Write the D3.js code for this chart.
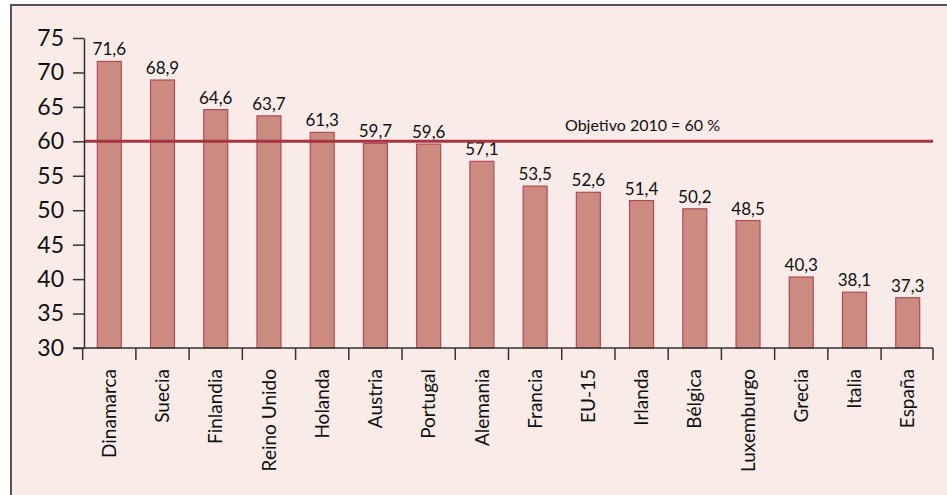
<!DOCTYPE html>
<html>
<head>
<meta charset="utf-8">
<script src="https://cdn.jsdelivr.net/npm/d3@7"></script>
<style>
  html, body { margin: 0; padding: 0; background: #fff; }
  svg text { font-family: Lato, 'Open Sans', sans-serif; font-weight: 400; fill: #111; }
</style>
</head>
<body>
<svg id="chart" width="947" height="495"></svg>
<script>
const countries = ['Dinamarca', 'Suecia', 'Finlandia', 'Reino Unido', 'Holanda', 'Austria', 'Portugal',
  'Alemania', 'Francia', 'EU-15', 'Irlanda', 'Bélgica', 'Luxemburgo', 'Grecia', 'Italia', 'España']
const rates = [71.6, 68.9, 64.6, 63.7, 61.3, 59.7, 59.6, 57.1, 53.5, 52.6, 51.4, 50.2, 48.5, 40.3, 38.1, 37.3]
const yTicks = [30, 35, 40, 45, 50, 55, 60, 65, 70, 75]
const target = 60
const targetLabel = 'Objetivo 2010 = 60 %'

const svg = d3.select('#chart')
const margin = {top: 38, right: 14, bottom: 147, left: 84}
const width = 947 - margin.left - margin.right
const height = 495 - margin.top - margin.bottom

// frame
svg.append('rect')
  .attr('x', 11).attr('y', 5)
  .attr('width', 947).attr('height', 500)
  .attr('fill', '#f8ebe8')
  .attr('stroke', '#555').attr('stroke-width', 2)

const g = svg.append('g').attr('transform', `translate(${margin.left},${margin.top})`)

const x = d3.scaleBand().domain(countries).range([0, width]).paddingInner(0.55).paddingOuter(0.25)
const y = d3.scaleLinear().domain([30, 75]).range([height, 0])

g.selectAll('rect.bar')
  .data(countries)
  .enter()
  .append('rect')
  .attr('class', 'bar')
  .attr('x', d => x(d))
  .attr('y', (d, i) => y(rates[i]))
  .attr('width', x.bandwidth())
  .attr('height', (d, i) => height - y(rates[i]))
  .attr('fill', '#cc8b80')
  .attr('stroke', '#b24a55')
  .attr('stroke-width', 1.2)

g.selectAll('text.value')
  .data(countries)
  .enter()
  .append('text')
  .attr('class', 'value')
  .attr('x', d => x(d) + x.bandwidth() / 2)
  .attr('y', (d, i) => y(rates[i]) - 6)
  .attr('text-anchor', 'middle')
  .style('font-size', '17px')
  .text((d, i) => d3.format('.1f')(rates[i]).replace('.', ','))

// target line
g.append('line')
  .attr('x1', 0).attr('x2', width)
  .attr('y1', y(target)).attr('y2', y(target))
  .attr('stroke', '#a83440')
  .attr('stroke-width', 3)

g.append('text')
  .attr('x', 481)
  .attr('y', y(target) - 10)
  .style('font-size', '16px')
  .text(targetLabel)

// y axis
const yAxis = g.append('g')
  .call(d3.axisLeft(y).tickValues(yTicks).tickSize(11).tickPadding(9).tickSizeOuter(0))
yAxis.selectAll('text').style('font-size', '23px').attr('fill', '#111')

// x axis with ticks on category boundaries
const xAxis = g.append('g').attr('transform', `translate(0,${height})`)
  .call(d3.axisBottom(x).tickSize(0).tickSizeOuter(0))
xAxis.select('.domain').remove()
xAxis.append('line')
  .attr('x1', -11).attr('x2', width)
  .attr('stroke', '#333').attr('stroke-width', 1.5)
const bounds = countries.map(d => x(d) - x.step() * x.paddingInner() / 2).concat([width])
xAxis.selectAll('line.sep')
  .data(bounds)
  .enter()
  .append('line')
  .attr('class', 'sep')
  .attr('x1', d => d).attr('x2', d => d)
  .attr('y1', 0).attr('y2', 12)
  .attr('stroke', '#333').attr('stroke-width', 1.5)
xAxis.selectAll('.tick text')
  .attr('transform', 'rotate(-90)')
  .attr('x', -21)
  .attr('y', 0)
  .attr('dy', '0.35em')
  .attr('text-anchor', 'end')
  .style('font-size', '19px')
  .attr('fill', '#111')

svg.selectAll('.domain').attr('stroke', '#333').attr('stroke-width', 1.5)
svg.selectAll('.tick line').attr('stroke', '#333').attr('stroke-width', 1.5)
</script>
</body>
</html>
